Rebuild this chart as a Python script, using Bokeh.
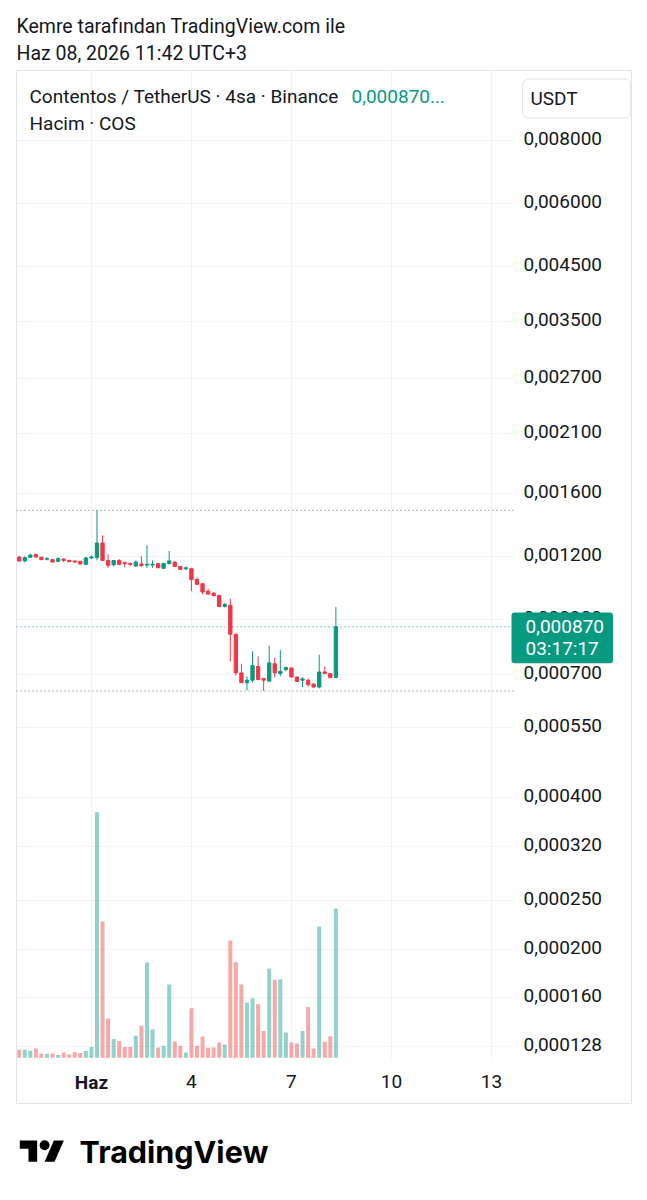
from bokeh.plotting import figure
from bokeh.models import (ColumnDataSource, FixedTicker, CustomJSTickFormatter, Range1d,
                          LinearScale, LogScale, LogAxis, Grid, Label)
from bokeh.layouts import column
from bokeh.core.properties import value
from bokeh.embed import file_html
from bokeh.resources import INLINE

# ---- data (COS/USDT, 4h candles, May 29 -> Jun 8 2026) ----
opens = [0.001196, 0.001175, 0.001195, 0.001209, 0.001195, 0.001184, 0.001182, 0.001173,
         0.001185, 0.001178, 0.001175, 0.001173, 0.001157, 0.001191, 0.001193, 0.001275,
         0.001177, 0.001155, 0.001178, 0.001166, 0.001162, 0.001148, 0.001159, 0.001153,
         0.001153, 0.001161, 0.001136, 0.001161, 0.001169, 0.001146, 0.001134, 0.001134,
         0.001079, 0.001059, 0.001023, 0.001014, 0.001004, 0.000955, 0.000960, 0.000841,
         0.000705, 0.000674, 0.000682, 0.000726, 0.000687, 0.000679, 0.000735, 0.000703,
         0.000716, 0.000721, 0.000692, 0.000682, 0.000682, 0.000670, 0.000661, 0.000708,
         0.000703, 0.000690]
highs = [0.001204, 0.001200, 0.001215, 0.001216, 0.001197, 0.001196, 0.001184, 0.001195,
         0.001189, 0.001180, 0.001176, 0.001175, 0.001196, 0.001205, 0.001480, 0.001321,
         0.001211, 0.001178, 0.001184, 0.001171, 0.001166, 0.001178, 0.001200, 0.001262,
         0.001178, 0.001163, 0.001164, 0.001229, 0.001173, 0.001147, 0.001146, 0.001139,
         0.001089, 0.001061, 0.001036, 0.001020, 0.001008, 0.000970, 0.000989, 0.000841,
         0.000735, 0.000694, 0.000778, 0.000760, 0.000688, 0.000798, 0.000756, 0.000782,
         0.000726, 0.000723, 0.000693, 0.000691, 0.000687, 0.000671, 0.000766, 0.000726,
         0.000704, 0.000952]
lows = [0.001168, 0.001168, 0.001191, 0.001193, 0.001180, 0.001178, 0.001167, 0.001169,
        0.001168, 0.001169, 0.001167, 0.001157, 0.001155, 0.001185, 0.001178, 0.001175,
        0.001139, 0.001146, 0.001152, 0.001143, 0.001146, 0.001143, 0.001144, 0.001139,
        0.001139, 0.001137, 0.001134, 0.001155, 0.001144, 0.001130, 0.001126, 0.001024,
        0.001053, 0.001008, 0.001008, 0.001000, 0.000954, 0.000950, 0.000743, 0.000697,
        0.000674, 0.000651, 0.000675, 0.000682, 0.000649, 0.000678, 0.000691, 0.000694,
        0.000710, 0.000691, 0.000677, 0.000661, 0.000661, 0.000660, 0.000657, 0.000701,
        0.000688, 0.000689]
closes = [0.001175, 0.001193, 0.001207, 0.001196, 0.001182, 0.001187, 0.001169, 0.001187,
          0.001177, 0.001171, 0.001169, 0.001159, 0.001191, 0.001196, 0.001275, 0.001178,
          0.001152, 0.001177, 0.001157, 0.001161, 0.001157, 0.001169, 0.001150, 0.001157,
          0.001157, 0.001139, 0.001162, 0.001175, 0.001146, 0.001131, 0.001139, 0.001079,
          0.001056, 0.001020, 0.001010, 0.001003, 0.000955, 0.000963, 0.000841, 0.000705,
          0.000674, 0.000682, 0.000729, 0.000684, 0.000682, 0.000738, 0.000705, 0.000710,
          0.000722, 0.000692, 0.000678, 0.000686, 0.000669, 0.000661, 0.000708, 0.000703,
          0.000690, 0.000870]
# volume, millions of COS
volumes = [2.0, 2.0, 1.75, 2.3, 1.0, 1.0, 1.1, 0.7, 1.3, 0.8, 1.4, 1.2, 1.7, 2.7, 61.4, 34.1,
           9.8, 4.7, 4.2, 2.7, 2.7, 5.5, 8.0, 23.8, 7.1, 2.6, 3.0, 18.3, 4.1, 3.0, 1.3, 12.4,
           3.0, 5.3, 2.5, 2.6, 3.8, 3.3, 29.3, 23.9, 18.3, 13.8, 14.9, 13.4, 6.7, 22.3, 19.5,
           19.6, 6.3, 3.8, 3.6, 6.7, 12.7, 2.3, 32.8, 4.0, 5.4, 37.3]
day_ticks = [13, 31, 49, 67, 85]
day_labels = ["Haz", "4", "7", "10", "13"]
price_ticks = [0.008, 0.006, 0.0045, 0.0035, 0.0027, 0.0021, 0.0016, 0.0012, 0.0009,
               0.0007, 0.00055, 0.0004, 0.00032, 0.00025, 0.0002, 0.00016, 0.000128]
countdown = "03:17:17"

UP, DN = "#089981", "#f23645"
VUP, VDN = "#26a69a", "#ef5350"
TXT = "#131722"
GRID = "#f0f3fa"
BORDER = "#e0e3eb"
FONT = "Roboto"
FS = "19px"

# layout constants (view extents, not data)
X_LEFT, X_PLOT_RIGHT, X_RIGHT = -0.486, 88.97, 110.21
Y_BOTTOM, Y_TOP, Y_GRID_BOTTOM = 0.00009886, 0.01101, 0.0001214
VOL_RANGE = (-11.425, 246.825)
LBL_SHIFT = 10 ** (-2 / 504.7)   # lifts price labels ~2px above their grid line
W = 647

n = len(opens)
up = [c >= o for o, c in zip(opens, closes)]
src = ColumnDataSource(dict(
    x=list(range(n)), o=opens, h=highs, l=lows, c=closes,
    top=[max(o, c) for o, c in zip(opens, closes)],
    bot=[min(o, c) for o, c in zip(opens, closes)],
    col=[UP if u else DN for u in up],
    vcol=[VUP if u else VDN for u in up],
    v=volumes))

# ---------------- header ----------------
hf = figure(width=W, height=70, output_backend="svg", toolbar_location=None, title=None,
            x_range=Range1d(16, 631), y_range=Range1d(0, 70),
            x_axis_location=None, y_axis_location=None,
            min_border_left=16, min_border_right=16, min_border_top=0, min_border_bottom=0)
hf.outline_line_color = None
hf.grid.visible = False
hf.text(x=[16, 16], y=[44, 17],
        text=["Kemre tarafından TradingView.com ile", "Haz 08, 2026 11:42 UTC+3"],
        text_font=value(FONT), text_font_size="19.5px", text_color=TXT,
        text_align="left", text_baseline="middle")

# ---------------- main chart ----------------
p = figure(width=W, height=1043, output_backend="svg", toolbar_location=None, title=None,
           y_axis_type="log", y_axis_location=None,
           x_range=Range1d(X_LEFT, X_RIGHT), y_range=Range1d(Y_BOTTOM, Y_TOP),
           min_border_left=16, min_border_right=16, min_border_top=0, min_border_bottom=10)
p.outline_line_color = BORDER
p.outline_line_width = 1
p.background_fill_color = "white"
p.border_fill_color = "white"
for g in p.ygrid:          # default decade grid of the hidden y axis
    g.visible = False

p.extra_y_ranges = {"vol": Range1d(*VOL_RANGE),
                    "lbl": Range1d(Y_BOTTOM * LBL_SHIFT, Y_TOP * LBL_SHIFT)}
p.extra_y_scales = {"vol": LinearScale(), "lbl": LogScale()}

# price axis (right)
yticker = FixedTicker(ticks=price_ticks)
yax = LogAxis(y_range_name="lbl", ticker=yticker,
              formatter=CustomJSTickFormatter(code="return tick.toFixed(6).replace('.', ',');"))
yax.major_label_text_font = FONT
yax.major_label_text_font_size = FS
yax.major_label_text_color = TXT
yax.major_tick_line_color = None
yax.major_tick_out = 0
yax.major_tick_in = 0
yax.minor_tick_line_color = None
yax.axis_line_color = None
yax.major_label_standoff = -108
p.add_layout(yax, "right")

# time axis
xax = p.xaxis[0]
xax.ticker = FixedTicker(ticks=day_ticks)
ov = {t: l for t, l in zip(day_ticks, day_labels)}
ov[day_ticks[0]] = ""
xax.major_label_overrides = ov
xax.major_label_text_font = FONT
xax.major_label_text_font_size = FS
xax.major_label_text_color = TXT
xax.major_tick_line_color = None
xax.major_tick_out = 0
xax.major_tick_in = 0
xax.minor_tick_line_color = None
xax.axis_line_color = None
xax.major_label_standoff = -29

# grid
p.xgrid.ticker = xax.ticker
p.xgrid.grid_line_color = GRID
ygrid = Grid(dimension=1, ticker=yticker, grid_line_color=GRID)
try:
    p.xgrid.cross_bounds = (Y_GRID_BOTTOM, Y_TOP)
    ygrid.cross_bounds = (X_LEFT, X_PLOT_RIGHT)
    p.add_layout(ygrid)
except Exception:
    p.xgrid.visible = False
    p.segment(x0=day_ticks, x1=day_ticks, y0=[Y_GRID_BOTTOM] * len(day_ticks),
              y1=[Y_TOP] * len(day_ticks), line_color=GRID, line_width=1)
    p.segment(x0=[X_LEFT] * len(price_ticks), x1=[X_PLOT_RIGHT] * len(price_ticks),
              y0=price_ticks, y1=price_ticks, line_color=GRID, line_width=1)

# dotted price lines: high, low, last
lvl = [max(highs), min(lows), closes[-1]]
p.segment(x0=[X_LEFT] * 3, x1=[X_PLOT_RIGHT] * 3, y0=lvl, y1=lvl,
          line_color=["#6f727c", "#6f727c", UP], line_dash="1 3", line_width=1)

# volume
p.vbar(x="x", width=0.72, top="v", bottom=0, source=src, y_range_name="vol",
       fill_color="vcol", fill_alpha=0.5, line_color=None)
# candles
p.segment(x0="x", y0="l", x1="x", y1="h", source=src, line_color="col", line_width=1)
p.vbar(x="x", width=0.6, top="top", bottom="bot", source=src,
       fill_color="col", line_color="col", line_width=1)

p.add_layout(Label(x=day_ticks[0], y=21, x_units="data", y_units="screen",
                   text=day_labels[0], text_font=FONT, text_font_size=FS,
                   text_font_style="bold", text_color=TXT,
                   text_align="center", text_baseline="middle"))


def txt(x, y, s, color=TXT):
    p.add_layout(Label(x=x, y=y, x_units="screen", y_units="screen", text=s,
                       text_font=FONT, text_font_size=FS, text_color=color,
                       text_align="left", text_baseline="middle"))


price_str = f"{closes[-1]:.6f}".replace(".", ",")
txt(13, 1007, "Contentos / TetherUS · 4sa · Binance")
txt(335, 1007, price_str + "...", color=UP)
txt(13, 980, "Hacim · COS")

# USDT box
p.add_layout(Label(x=506, y=1005, x_units="screen", y_units="screen", text="USDT",
                   text_font=FONT, text_font_size=FS, text_color=TXT,
                   text_align="left", text_baseline="middle",
                   background_fill_color="white", border_line_color=BORDER,
                   border_radius=6,
                   padding=dict(left=8, right=53, top=8, bottom=8)))

# last price label
p.add_layout(Label(x=495, y=closes[-1], x_units="screen", y_units="data",
                   y_offset=-11,
                   text=price_str + "\n" + countdown,
                   text_font=FONT, text_font_size=FS, text_color="white",
                   text_line_height=0.95,
                   text_align="left", text_baseline="middle",
                   background_fill_color=UP, border_radius=3,
                   padding=dict(left=14, right=9, top=3, bottom=3)))

# ---------------- logo strip ----------------
lf = figure(width=W, height=87, output_backend="svg", toolbar_location=None, title=None,
            x_range=Range1d(16, 631), y_range=Range1d(0, 87),
            x_axis_location=None, y_axis_location=None,
            min_border_left=16, min_border_right=16, min_border_top=0, min_border_bottom=0)
lf.outline_line_color = None
lf.grid.visible = False
sx, sy = 1.24, 1.18
X = lambda u: 19.3 + sx * u
Y = lambda v: 60 - (v - 4) * sy
shape1 = [(0, 4), (14, 4), (14, 22), (7, 22), (7, 11), (0, 11)]
shape2 = [(28, 22), (20, 22), (27.5, 4), (35.5, 4)]
lf.patches(xs=[[X(u) for u, v in s] for s in (shape1, shape2)],
           ys=[[Y(v) for u, v in s] for s in (shape1, shape2)],
           fill_color="#000000", line_color=None)
lf.circle(x=[X(20)], y=[Y(8)], radius=4 * sx, fill_color="#000000", line_color=None)
lf.text(x=[79], y=[49], text=["TradingView"], text_font=value("Inter"),
        text_font_size="30.5px", text_font_style="bold", text_color="#000000",
        text_baseline="alphabetic", text_align="left")

layout = column(hf, p, lf)
open("out.html", "w").write(file_html(layout, INLINE))
